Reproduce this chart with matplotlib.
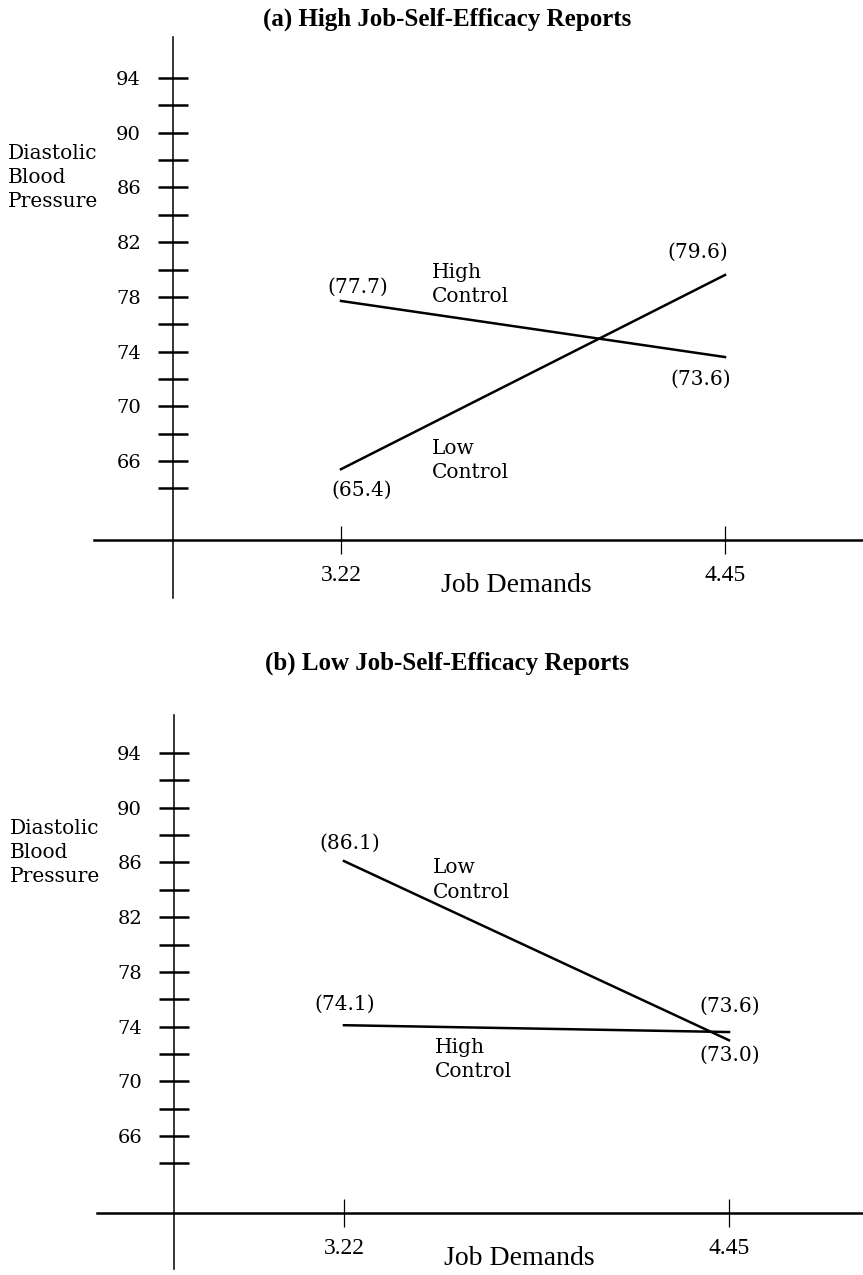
import matplotlib
matplotlib.use("Agg")
import matplotlib.pyplot as plt

# Data
job_demands = [3.22, 4.45]
y_ticks = list(range(64, 96, 2))
y_tick_labels = [str(t) if (t - 66) % 4 == 0 else "" for t in y_ticks]

high_control_a = [77.7, 73.6]
low_control_a = [65.4, 79.6]
high_control_b = [74.1, 73.6]
low_control_b = [86.1, 73.0]

W, H, DPI = 863, 1275, 100
SERIF = "DejaVu Serif"
NARROW = "Liberation Serif"


def panel_axes(fig, row_top, row_bot, x_px, y_px):
    # x_px: (3.22 px, 4.45 px), y_px: (94 px, 66 px) in figure pixels
    sx = (x_px[1] - x_px[0]) / (job_demands[1] - job_demands[0])
    sy = (y_px[1] - y_px[0]) / (94 - 66)
    x0 = job_demands[0] - x_px[0] / sx
    x1 = x0 + W / sx
    ytop = 94 + (y_px[0] - row_top) / sy
    ybot = ytop - (row_bot - row_top) / sy
    ax = fig.add_axes([0, 1 - row_bot / H, 1, (row_bot - row_top) / H])
    ax.set_xlim(x0, x1)
    ax.set_ylim(ybot, ytop)
    ax.patch.set_alpha(0)
    return ax


def style_axes(ax, yaxis_x, xaxis_y, ybounds):
    for s in ["top", "right"]:
        ax.spines[s].set_visible(False)
    ax.spines["left"].set_position(("data", yaxis_x))
    ax.spines["left"].set_bounds(*ybounds)
    ax.spines["left"].set_linewidth(1.1)
    ax.spines["bottom"].set_position(("data", xaxis_y))
    ax.spines["bottom"].set_bounds(2.43, ax.get_xlim()[1])
    ax.spines["bottom"].set_linewidth(1.8)
    ax.set_yticks(y_ticks)
    ax.set_yticklabels(y_tick_labels, fontfamily=SERIF, fontsize=14)
    ax.set_xticks(job_demands)
    ax.set_xticklabels([f"{v:.2f}" for v in job_demands], fontfamily=NARROW, fontsize=17)
    ax.tick_params(axis="y", direction="inout", length=22, width=1.8, pad=12)
    ax.tick_params(axis="x", direction="inout", length=20, width=0.9, pad=8)
    ax.text(3.78, xaxis_y - 3.3, "Job Demands", fontfamily=NARROW, fontsize=20,
            ha="center", va="center")
    ax.text(2.153, 89.2, "Diastolic\nBlood\nPressure", fontfamily=SERIF, fontsize=14.5,
            ha="left", va="top", linespacing=1.35)


def label(ax, x, y, dx, dy):
    ax.annotate(f"({y:.1f})", (x, y), xytext=(dx * 0.72, dy * 0.72),
                textcoords="offset points", ha="center", va="center",
                fontfamily=SERIF, fontsize=14.5)


fig = plt.figure(figsize=(W / DPI, H / DPI), dpi=DPI)

# (a) High job-self-efficacy
ax1 = panel_axes(fig, 0, 640, (341, 725), (78, 461))
style_axes(ax1, 2.682, 60.23, (56.0, 97.0))
ax1.plot(job_demands, high_control_a, color="black", lw=1.8, clip_on=False)
ax1.plot(job_demands, low_control_a, color="black", lw=1.8, clip_on=False)
label(ax1, job_demands[0], high_control_a[0], 17, 14)
label(ax1, job_demands[0], low_control_a[0], 21, -21)
label(ax1, job_demands[1], low_control_a[1], -27, 23)
label(ax1, job_demands[1], high_control_a[1], -24, -22)
ax1.text(3.51, 80.5, "High\nControl", fontfamily=SERIF, fontsize=14.5,
         ha="left", va="top", linespacing=1.35)
ax1.text(3.51, 67.6, "Low\nControl", fontfamily=SERIF, fontsize=14.5,
         ha="left", va="top", linespacing=1.35)

# (b) Low job-self-efficacy
ax2 = panel_axes(fig, 640, H, (344, 729), (753, 1136))
style_axes(ax2, 2.677, 60.37, (56.3, 96.8))
ax2.plot(job_demands, high_control_b, color="black", lw=1.8, clip_on=False)
ax2.plot(job_demands, low_control_b, color="black", lw=1.8, clip_on=False)
label(ax2, job_demands[0], low_control_b[0], 6, 18)
label(ax2, job_demands[0], high_control_b[0], 1, 21)
label(ax2, job_demands[1], high_control_b[1], 1, 26)
label(ax2, job_demands[1], low_control_b[1], 1, -15)
ax2.text(3.504, 86.3, "Low\nControl", fontfamily=SERIF, fontsize=14.5,
         ha="left", va="top", linespacing=1.35)
ax2.text(3.51, 73.2, "High\nControl", fontfamily=SERIF, fontsize=14.5,
         ha="left", va="top", linespacing=1.35)

fig.text(447 / W, 1 - 19 / H, "(a) High Job-Self-Efficacy Reports",
         fontfamily=NARROW, fontweight="bold", fontsize=18, ha="center", va="center")
fig.text(447 / W, 1 - 663 / H, "(b) Low Job-Self-Efficacy Reports",
         fontfamily=NARROW, fontweight="bold", fontsize=18, ha="center", va="center")

fig.savefig("out.png", dpi=DPI, facecolor="white")
